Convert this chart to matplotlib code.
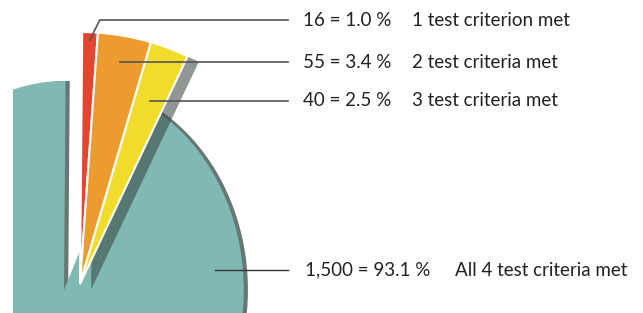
import numpy as np
import matplotlib.pyplot as plt

# counts per number of test criteria met
counts = [16, 55, 40, 1500]
criteria = ['1 test criterion met', '2 test criteria met',
            '3 test criteria met', 'All 4 test criteria met']
colors = ['#e5452e', '#ec9c2f', '#f1dc2c', '#80b9b2']

total = sum(counts)
fracs = [c / total for c in counts]

W, H = 643, 313
fig = plt.figure(figsize=(W / 100, H / 100), dpi=100)

# big teal slice, a bit elliptic, cut off at the left
sx = 0.86
left = 13
ax1 = fig.add_axes([left / W, 0, 1 - left / W, 1])
wedges1, _ = ax1.pie(counts, colors=colors, startangle=89.5, counterclock=False,
                     center=(64 / sx, H - 290), radius=209,
                     wedgeprops=dict(linewidth=0),
                     shadow=dict(ox=3.5, oy=0, facecolor='#354845', edgecolor='none',
                                 alpha=0.75),
                     frame=True)
ax1.set_aspect('auto')
ax1.set_xlim(left / sx, W / sx)
ax1.set_ylim(0, H)
ax1.axis('off')
shadows = [p for p in ax1.patches if p not in wedges1]
for p in ax1.patches:
    p.set_clip_on(True)
# only the teal slice lives on this axes
for w in wedges1[:3] + shadows[:3]:
    w.set_visible(False)

# the three small slices pulled out
ax2 = fig.add_axes([0, 0, 1, 1])
ax2.patch.set_alpha(0)
cx, cy, r = 80, H - 284, 252
wedges2, _ = ax2.pie(fracs[:3], normalize=False, colors=colors[:3],
                     startangle=89.5, counterclock=False,
                     center=(cx, cy), radius=r,
                     wedgeprops=dict(edgecolor='white', linewidth=1.5),
                     shadow=dict(ox=8, oy=-4, facecolor='#34413f', edgecolor='none',
                                 alpha=0.55),
                     frame=True)
ax2.set_xlim(0, W)
ax2.set_ylim(0, H)
ax2.set_aspect('auto')
ax2.axis('off')

label_y = [H - 20, H - 62, H - 101, H - 270]
line_col = '#555555'
x_end = 288

# red: elbow leader
w = wedges2[0]
mid = np.deg2rad((w.theta1 + w.theta2) / 2)
x0, y0 = cx + 244 * np.cos(mid), cy + 244 * np.sin(mid)
ax2.plot([x0, x0 + 10, x_end], [y0, label_y[0], label_y[0]], color=line_col, lw=1.2)

# orange, yellow: horizontal from the mid ray
for i in (1, 2):
    w = wedges2[i]
    mid = np.deg2rad((w.theta1 + w.theta2) / 2)
    x0 = cx + (label_y[i] - cy) / np.tan(mid)
    ax2.plot([x0, x_end], [label_y[i], label_y[i]], color=line_col, lw=1.2)

ax2.plot([215, x_end], [label_y[3], label_y[3]], color='#333333', lw=1.0)

pct = [f'{c:,} = {f * 100:.1f} %' for c, f in zip(counts, fracs)]
txt = dict(fontsize=13.5, color='#222222', va='center', family='Lato')
for i in range(3):
    ax2.text(303, label_y[i], pct[i], **txt)
    ax2.text(412, label_y[i], criteria[i], **txt)
ax2.text(305, label_y[3], pct[3], **txt)
ax2.text(455, label_y[3], criteria[3], **txt)

fig.savefig('out.png', dpi=100)
